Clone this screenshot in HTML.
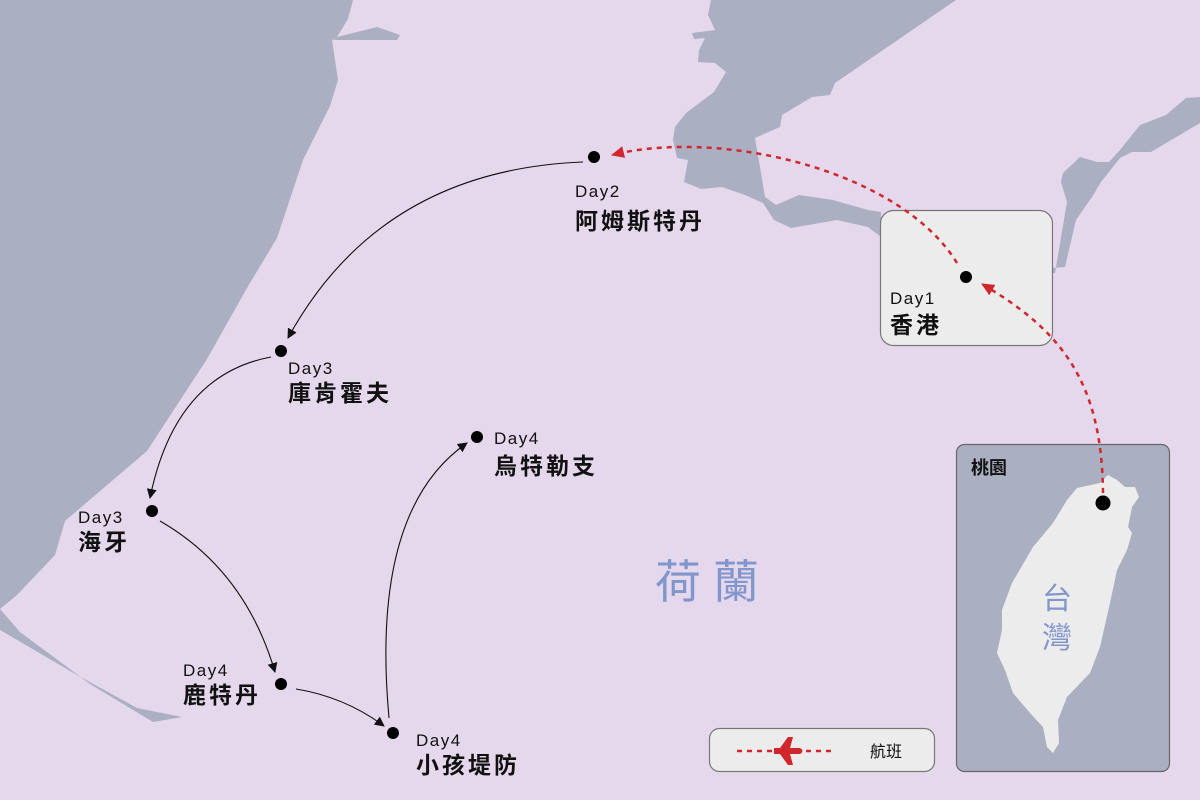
<!DOCTYPE html>
<html><head><meta charset="utf-8"><style>
html,body{margin:0;padding:0;background:#e5d7ec;}
svg{display:block}
text{font-family:"Liberation Sans","Noto Sans CJK TC",sans-serif;}
.d{font-size:17px;letter-spacing:1.5px;fill:#111}
.n{font-size:23px;font-weight:bold;letter-spacing:3px;fill:#111}
</style></head><body>
<svg width="1200" height="800" viewBox="0 0 1200 800" xmlns="http://www.w3.org/2000/svg">
<defs>
<marker id="ab" markerWidth="10" markerHeight="10" refX="9" refY="5" orient="auto" markerUnits="userSpaceOnUse"><path d="M0,0L10,5L0,10z" fill="#111"/></marker>
<marker id="ar" markerWidth="14" markerHeight="14" refX="12" refY="7" orient="auto" markerUnits="userSpaceOnUse"><path d="M0,1L13,7L0,13z" fill="#d1262b"/></marker>
</defs>
<rect width="1200" height="800" fill="#e5d7ec"/>
<g fill="#aab0c2">
<polygon points="0,0 353,0 348,19 337,37 332,40 338,80 330,106 303,160 277,238 247,288 207,359 147,451 65,521 55,555 17,595 0,609"/>
<polygon points="337,37 377,27 400,35 397,40 333,40"/>
<polygon points="0,609 20,632 90,684 153,722 182,717 137,708 77,675 0,630"/>
<polygon points="711,0 708,15 715,30 692,33 694,39 705,38 699,50 698,62 715,63 726,72 714,92 686,113 675,127 673,140 677,158 688,160 684,182 701,189 722,187 745,195 763,203 774,220 791,228 837,220 868,227 881,237 881,212 868,210 833,200 799,195 776,205 765,197 761,173 755,138 780,127 782,115 812,97 830,95 835,83 956,0"/>
<polygon points="1200,97 1186,98 1166,115 1140,125 1120,150 1109,162 1097,162 1080,157 1063,173 1061,182 1067,202 1055,273 1052,273 1052,268 1065,267 1076,220 1092,197 1101,182 1120,158 1132,152 1151,152 1200,123"/>
</g>
<rect x="880.5" y="210.5" width="172" height="135" rx="13" fill="#ececec" stroke="#777" stroke-width="1.2"/>
<rect x="956.5" y="444.5" width="213" height="327" rx="8" fill="#aab0c2" stroke="#666" stroke-width="1.2"/>
<polygon fill="#ececec" points="1100,483 1108,475 1117,480 1125,487 1135,487 1139,497 1132,507 1128,527 1132,533 1127,550 1117,570 1110,603 1100,647 1090,673 1067,697 1058,720 1059,743 1053,753 1047,747 1043,727 1030,713 1013,693 1005,670 997,653 1002,630 1002,610 1012,583 1033,547 1053,523 1067,500 1077,488"/>
<rect x="709.5" y="728.5" width="225" height="43" rx="10" fill="#ececec" stroke="#777" stroke-width="1.2"/>
<g fill="none" stroke="#111" stroke-width="1.1">
<path d="M583,162 Q380,170 288,338" marker-end="url(#ab)"/>
<path d="M271,357 Q175,375 150,498" marker-end="url(#ab)"/>
<path d="M160,521 Q245,570 275,672" marker-end="url(#ab)"/>
<path d="M296,689 Q345,697 384,726" marker-end="url(#ab)"/>
<path d="M389,718 Q370,510 467,443" marker-end="url(#ab)"/>
</g>
<g fill="none" stroke="#d1262b" stroke-width="2.5" stroke-dasharray="5,5">
<path d="M1103,493 C1102,380 1060,330 982,284" marker-end="url(#ar)"/>
<path d="M957,263 C900,170 720,128 612,155" marker-end="url(#ar)"/>
<path d="M737,751 H775 M806,751 H832"/>
</g>
<path fill="#d1262b" d="M774,748 L780,748 L788,737 L793,737 L790,748 L800,748 Q805,751 800,754 L790,754 L793,765 L788,765 L780,754 L774,754 Z"/>
<text x="870" y="757" font-size="16" fill="#111">航班</text>
<g fill="#000">
<circle cx="594" cy="157" r="6"/><circle cx="281" cy="351" r="6"/><circle cx="152" cy="511" r="6"/>
<circle cx="281" cy="684" r="6"/><circle cx="393" cy="733" r="6"/><circle cx="477" cy="437" r="6"/>
<circle cx="966" cy="277" r="6"/><circle cx="1103" cy="503" r="7.5"/>
</g>
<text class="d" x="575" y="197">Day2</text><text class="n" x="575" y="229">阿姆斯特丹</text>
<text class="d" x="288" y="374">Day3</text><text class="n" x="288" y="401">庫肯霍夫</text>
<text class="d" x="78" y="523">Day3</text><text class="n" x="78" y="550">海牙</text>
<text class="d" x="183" y="676">Day4</text><text class="n" x="183" y="703">鹿特丹</text>
<text class="d" x="416" y="746">Day4</text><text class="n" x="416" y="773">小孩堤防</text>
<text class="d" x="494" y="444">Day4</text><text class="n" x="494" y="474">烏特勒支</text>
<text class="d" x="890" y="304">Day1</text><text class="n" x="890" y="333">香港</text>
<text x="971" y="474" font-size="18" font-weight="bold" fill="#111">桃園</text>
<text x="655" y="598" font-size="46" fill="#8196cc" letter-spacing="12">荷蘭</text>
<text x="1057" y="609" font-size="30" fill="#8196cc" text-anchor="middle">台</text>
<text x="1057" y="648" font-size="30" fill="#8196cc" text-anchor="middle">灣</text>
</svg>
</body></html>
